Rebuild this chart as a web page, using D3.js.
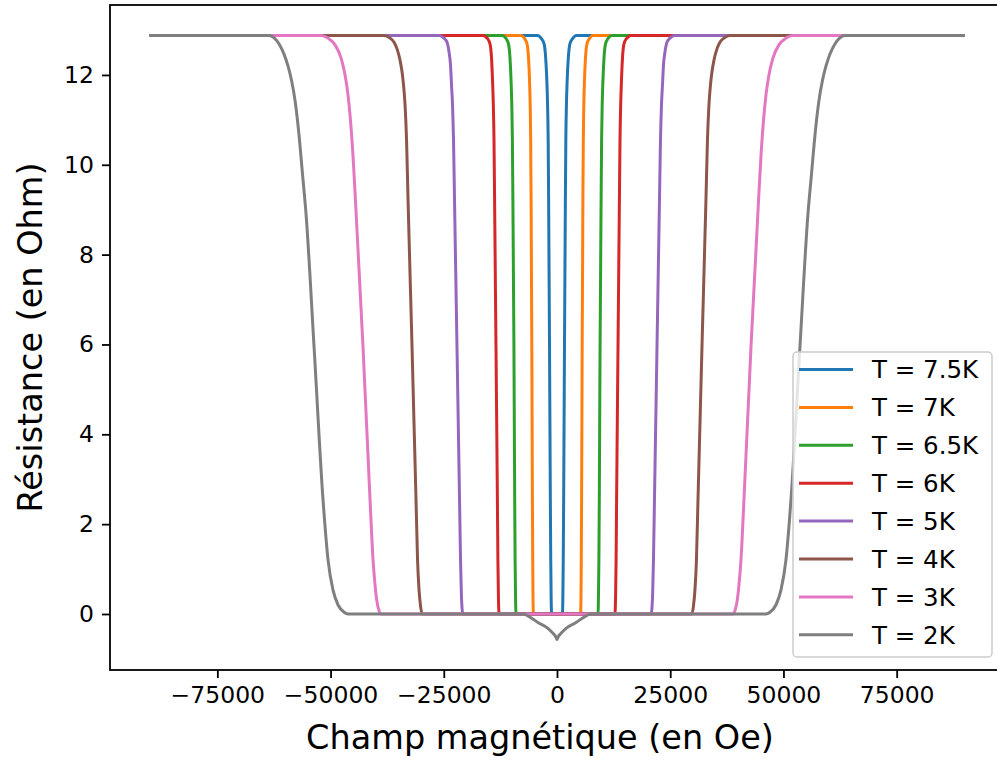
<!DOCTYPE html>
<html>
<head>
<meta charset="utf-8">
<script src="https://cdn.jsdelivr.net/npm/d3@7"></script>
<style>
    body { margin: 0; background: #fff; }
    text { font-family: "DejaVu Sans", sans-serif; fill: #000; }
</style>
</head>
<body>
<svg id="chart" width="997" height="760"></svg>
<script>

// Half curves (field in Oe >= 0, resistance in Ohm).
// The measurement is symmetric in field, the negative side is the mirror.
const halfT75 = [[0, 0], [1200, 0], [1300, 0.42], [1380, 1.2], [1470, 2.54], [1650, 5.94], [1850, 9.22], [1950, 10.55],
    [2080, 11.33], [2250, 11.89], [2500, 12.38], [2850, 12.69], [3450, 12.81], [4300, 12.88], [90000, 12.88]]
const halfT7 = [[0, 0], [5210, 0], [5300, 0.42], [5360, 1.2], [5430, 2.54], [5560, 5.94], [5720, 9.22], [5810, 10.55],
    [5920, 11.33], [6070, 11.89], [6290, 12.38], [6620, 12.69], [7170, 12.81], [7950, 12.88], [90000, 12.88]]
const halfT65 = [[0, 0], [9050, 0], [9160, 0.42], [9250, 1.2], [9340, 2.54], [9510, 5.94], [9740, 9.22], [9850, 10.55],
    [9980, 11.33], [10150, 11.89], [10380, 12.38], [10710, 12.69], [11260, 12.81], [12140, 12.88], [90000, 12.88]]
const halfT6 = [[0, 0], [12800, 0], [12940, 0.42], [13050, 1.2], [13160, 2.54], [13470, 5.94], [13780, 9.22], [13910, 10.55],
    [14060, 11.33], [14240, 11.89], [14460, 12.38], [14790, 12.69], [15340, 12.81], [16340, 12.88], [90000, 12.88]]
const halfT5 = [[0, 0], [20790, 0], [20970, 0.13], [21130, 0.49], [21300, 1.2], [21520, 2.54], [22080, 5.94], [22630, 9.22],
    [22850, 10.55], [23070, 11.33], [23290, 11.78], [23510, 12.22], [23840, 12.51], [24280, 12.73], [24940, 12.82], [26050, 12.88], [90000, 12.88]]
const halfT4 = [[0, 0], [29800, 0], [30130, 0.18], [30460, 0.53], [30790, 1.2], [31130, 2.54], [32010, 5.94], [32890, 9.22],
    [33220, 10.55], [33550, 11.33], [33890, 11.78], [34220, 12.07], [34660, 12.33], [35320, 12.58], [35980, 12.73], [36870, 12.82], [38190, 12.88], [90000, 12.88]]
const halfT3 = [[0, 0], [38950, 0], [39290, 0.07], [39740, 0.27], [40180, 0.65], [40620, 1.2], [41280, 2.54], [42830, 5.94],
    [44600, 9.4], [45100, 10.3], [45650, 11.05], [46200, 11.6], [46800, 12.0], [47690, 12.38], [49010, 12.67], [50550, 12.82], [52100, 12.88], [90000, 12.88]]
const halfT2 = [[0, -0.57], [200, -0.52], [1000, -0.42], [2000, -0.32], [4200, -0.19], [5800, -0.08], [7500, 0],
    [46140, 0], [47020, 0.04], [48340, 0.2], [49450, 0.53], [50550, 1.2], [51660, 2.54], [53640, 5.94], [55410, 8.9],
    [56200, 9.8], [57000, 10.7], [57800, 11.4], [58600, 11.87], [59400, 12.2], [60300, 12.47], [61300, 12.68], [62400, 12.82], [63580, 12.88], [90000, 12.88]]

const labels = ["T = 7.5K", "T = 7K", "T = 6.5K", "T = 6K", "T = 5K", "T = 4K", "T = 3K", "T = 2K"]
const halves = [halfT75, halfT7, halfT65, halfT6, halfT5, halfT4, halfT3, halfT2]

const xTicks = [-75000, -50000, -25000, 0, 25000, 50000, 75000]
const yTicks = [0, 2, 4, 6, 8, 10, 12]

const colors = ['#1f77b4', '#ff7f0e', '#2ca02c', '#d62728', '#9467bd', '#8c564b', '#e377c2', '#7f7f7f']


function mirror(half) {
    const neg = half.slice(1).map(p => [-p[0], p[1]]).reverse()
    return neg.concat(half)
}


function drawChart() {

    // plot area, the right spine falls just outside the picture
    const left = 110, right = 1004, top = 5, bottom = 670

    const svg = d3.select('#chart')

    const xScale = d3.scaleLinear()
        .domain([-98700, 98700])
        .range([left, right])

    const yScale = d3.scaleLinear()
        .domain([-1.247, 13.557])
        .range([bottom, top])

    const line = d3.line()
        .x(d => xScale(d[0]))
        .y(d => yScale(d[1]))
        .curve(d3.curveMonotoneX)

    const g = svg.append('g')

    halves.forEach((half, i) => {
        g.append('path')
            .datum(mirror(half))
            .attr('d', line)
            .attr('fill', 'none')
            .attr('stroke', colors[i])
            .attr('stroke-width', 3)
            .attr('stroke-linejoin', 'round')
    })

    // axes
    const xAxis = d3.axisBottom(xScale)
        .tickValues(xTicks)
        .tickSizeInner(8).tickSizeOuter(0).tickPadding(8)
        .tickFormat(d => d3.format('d')(d).replace('-', '\u2212'))

    const yAxis = d3.axisLeft(yScale)
        .tickValues(yTicks)
        .tickSizeInner(8).tickSizeOuter(0).tickPadding(8)

    const gx = svg.append('g')
        .attr('transform', 'translate(0,' + bottom + ')')
        .call(xAxis)
    const gy = svg.append('g')
        .attr('transform', 'translate(' + left + ',0)')
        .call(yAxis)

    gx.select('.domain').remove()
    gy.select('.domain').remove()

    svg.selectAll('.tick line').attr('stroke', '#000').attr('stroke-width', 1.8)
    svg.selectAll('.tick text')
        .style('font-family', '"DejaVu Sans", sans-serif')
        .style('font-size', '23.5px')
        .attr('fill', '#000')

    // frame
    svg.append('rect')
        .attr('x', left).attr('y', top)
        .attr('width', right - left).attr('height', bottom - top)
        .attr('fill', 'none')
        .attr('stroke', '#000')
        .attr('stroke-width', 1.8)

    // axis labels
    svg.append('text')
        .attr('x', 540).attr('y', 749)
        .attr('text-anchor', 'middle')
        .style('font-size', '33.5px')
        .text('Champ magnétique (en Oe)')

    svg.append('text')
        .attr('transform', 'translate(42,' + ((top + bottom) / 2) + ') rotate(-90)')
        .attr('text-anchor', 'middle')
        .style('font-size', '33.5px')
        .text('Résistance (en Ohm)')

    // legend
    const lg = svg.append('g').attr('transform', 'translate(793,352)')
    lg.append('rect')
        .attr('width', 199).attr('height', 305)
        .attr('rx', 4)
        .attr('fill', 'white').attr('fill-opacity', 0.8)
        .attr('stroke', '#cccccc').attr('stroke-width', 1.5)

    labels.forEach((label, i) => {
        const y = 17.5 + i * 37.9
        lg.append('line')
            .attr('x1', 6).attr('x2', 60)
            .attr('y1', y).attr('y2', y)
            .attr('stroke', colors[i])
            .attr('stroke-width', 3)
        lg.append('text')
            .attr('x', 79).attr('y', y)
            .attr('dy', '0.36em')
            .style('font-size', '24.5px')
            .text(label)
    })
}

drawChart()

</script>
</body>
</html>
